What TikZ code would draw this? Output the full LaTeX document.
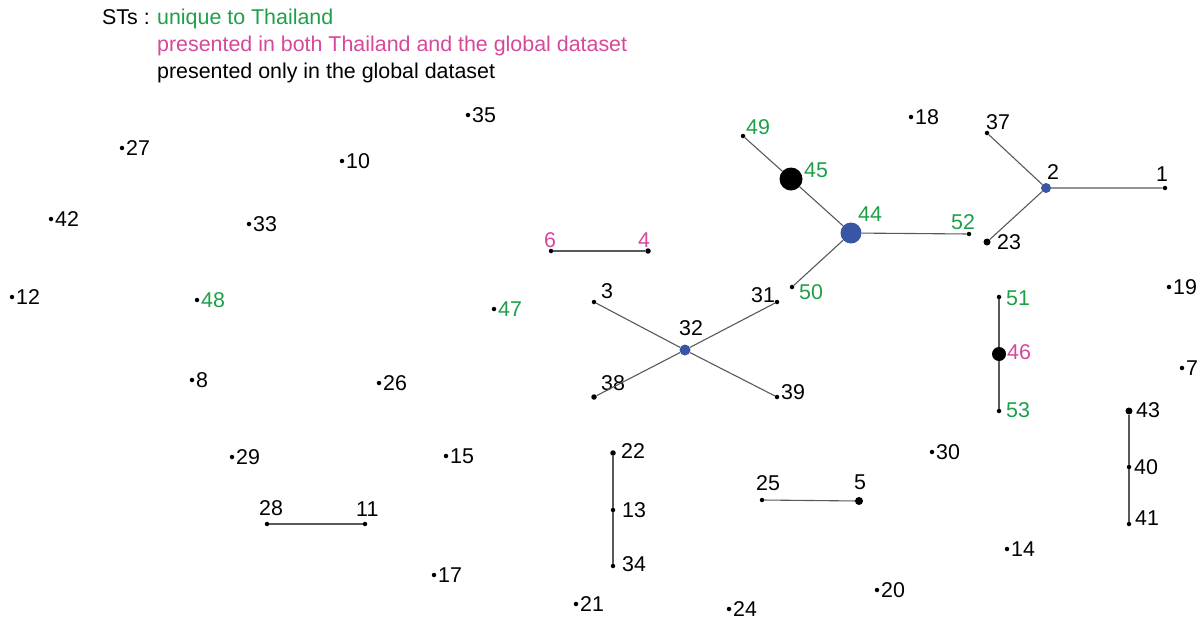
\documentclass[tikz,border=0pt]{standalone}
\usepackage{fontspec}
\setmainfont{Liberation Sans}
\definecolor{stgreen}{HTML}{1E9F48}
\definecolor{stpink}{HTML}{D6489A}
\definecolor{stblue}{HTML}{3A55A4}
\begin{document}
\begin{tikzpicture}[
		x=1pt, y=-1pt,
		font=\fontsize{21.4}{25}\selectfont,
		st/.style={circle, fill=black, inner sep=0pt, minimum size=4.5pt},
		stmid/.style={st, minimum size=7pt},
		stbig/.style={circle, fill=black, inner sep=0pt},
		hub/.style={circle, fill=stblue, inner sep=0pt},
		lbl/.style={inner sep=0pt, anchor=west},
		thai/.style={text=stgreen},
		both/.style={text=stpink},
		link/.style={draw=black!65, line width=1.1pt},
		label distance=1.5pt,
	]
		\useasboundingbox (0,0) rectangle (1200,619);

		% Legende
		\node[lbl, anchor=base west] (key) at (102,24.5) {STs :};
		\node[lbl, anchor=base west, thai] (keythai) at (157,24.5) {unique to Thailand};
		\node[lbl, anchor=base west, both] (keyboth) at (157,51.5) {presented in both Thailand and the global dataset};
		\node[lbl, anchor=base west] (keyglob) at (157,78) {presented only in the global dataset};

		% einzelne STs
		\foreach \n/\px/\py in {35/468/115, 27/122/148, 10/342/161, 18/911/117,
				42/51/219, 33/249/224, 12/12/297, 19/1169/287, 8/192/380, 26/379/383,
				7/1182/368, 29/232/457, 15/446/456, 30/932/452, 14/1007/549,
				17/434/575, 20/877/590, 21/576/604, 24/729/609}
			\node[st, label={[lbl]east:\n}] (s\n) at (\px,\py) {};
		\foreach \n/\px/\py in {48/197/300, 47/494/309}
			\node[st, label={[lbl, thai]east:\n}] (s\n) at (\px,\py) {};

		% verbundene STs
		\node[st] (s49) at (743,136) {};
		\node[stbig, minimum size=23pt] (s45) at (791,179) {};
		\node[hub, minimum size=21pt] (s44) at (851,233) {};
		\node[st] (s52) at (969,234) {};
		\node[st] (s50) at (792,287) {};
		\node[st] (s37) at (987,133) {};
		\node[hub, minimum size=10pt] (s2) at (1046,188) {};
		\node[st] (s1) at (1165,188) {};
		\node[stmid] (s23) at (987,242) {};
		\node[st] (s6) at (551,251) {};
		\node[st, minimum size=5.5pt] (s4) at (648,251) {};
		\node[st] (s3) at (594,302) {};
		\node[st] (s31) at (777,302) {};
		\node[hub, minimum size=11pt] (s32) at (685,350) {};
		\node[st, minimum size=5.5pt] (s38) at (594,397) {};
		\node[st] (s39) at (777,397) {};
		\node[st] (s51) at (999,297) {};
		\node[stbig, minimum size=14pt] (s46) at (999,354) {};
		\node[st] (s53) at (999,411) {};
		\node[stmid] (s43) at (1129,411) {};
		\node[st] (s40) at (1129,467) {};
		\node[st] (s41) at (1129,524) {};
		\node[st, minimum size=5.5pt] (s22) at (613,453) {};
		\node[st] (s13) at (613,510) {};
		\node[st] (s34) at (613,566) {};
		\node[st] (s28) at (267,524) {};
		\node[st] (s11) at (365,524) {};
		\node[st] (s25) at (762,500) {};
		\node[stmid, minimum size=8pt] (s5) at (859,501) {};

		% Beschriftungen
		\node[lbl, thai] (l49) at (746,127) {49};
		\node[lbl, thai] (l45) at (804,170) {45};
		\node[lbl, thai] (l44) at (858,214) {44};
		\node[lbl, thai] (l52) at (951,222) {52};
		\node[lbl, thai] (l50) at (799,292) {50};
		\node[lbl] (l37) at (986,122) {37};
		\node[lbl] (l2) at (1047,172) {2};
		\node[lbl] (l1) at (1156,174) {1};
		\node[lbl] (l23) at (997,242) {23};
		\node[lbl, both] (l6) at (544,240) {6};
		\node[lbl, both] (l4) at (638,240) {4};
		\node[lbl] (l3) at (601,291) {3};
		\node[lbl] (l31) at (751,295) {31};
		\node[lbl] (l32) at (679,328) {32};
		\node[lbl] (l38) at (601,383) {38};
		\node[lbl] (l39) at (781,392) {39};
		\node[lbl, thai] (l51) at (1006,298) {51};
		\node[lbl, both] (l46) at (1007,352) {46};
		\node[lbl, thai] (l53) at (1006,410) {53};
		\node[lbl] (l43) at (1136,410) {43};
		\node[lbl] (l40) at (1134,467) {40};
		\node[lbl] (l41) at (1135,518) {41};
		\node[lbl] (l22) at (621,451) {22};
		\node[lbl] (l13) at (622,510) {13};
		\node[lbl] (l34) at (622,564) {34};
		\node[lbl] (l28) at (259,508) {28};
		\node[lbl] (l11) at (356,509) {11};
		\node[lbl] (l25) at (756,483) {25};
		\node[lbl] (l5) at (854,482) {5};

		% Verbindungen
		\draw[link] (s49) -- (s45) -- (s44) -- (s52);
		\draw[link] (s44) -- (s50);
		\draw[link] (s37) -- (s2) -- (s1);
		\draw[link] (s2) -- (s23);
		\draw[link] (s6) -- (s4);
		\draw[link] (s3) -- (s32) -- (s39);
		\draw[link] (s38) -- (s32) -- (s31);
		\draw[link] (s51) -- (s46) -- (s53);
		\draw[link] (s43) -- (s40) -- (s41);
		\draw[link] (s22) -- (s13) -- (s34);
		\draw[link] (s28) -- (s11);
		\draw[link] (s25) -- (s5);
	\end{tikzpicture}
\end{document}
